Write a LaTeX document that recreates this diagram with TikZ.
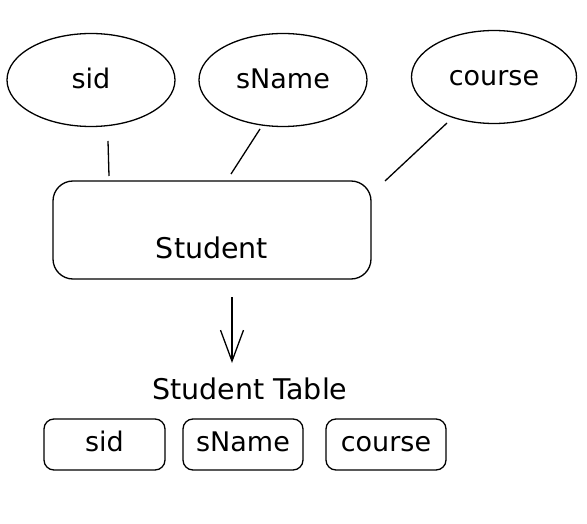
\documentclass[tikz,border=0pt]{standalone}
\usepackage{fontspec}
\setmainfont{DejaVu Sans}
\usetikzlibrary{shapes.geometric,arrows.meta}

\tikzset{
  attr/.style={ellipse, draw, line width=1.3pt, inner sep=0pt,
    minimum width=168pt, minimum height=93pt, text height=20pt, text depth=2pt},
  entity/.style={rectangle, draw, line width=1.3pt, rounded corners=20pt,
    minimum width=318pt, minimum height=98pt},
  cell/.style={rectangle, draw, line width=1.3pt, rounded corners=10pt,
    minimum width=120pt, minimum height=51pt, text height=19pt, text depth=5pt},
  title/.style={font=\fontsize{28.5}{33}\selectfont},
  link/.style={line width=1.3pt},
}

\begin{document}
\begin{tikzpicture}[x=1pt, y=-1pt, font=\fontsize{27}{32}\selectfont]
  \useasboundingbox (0,0) rectangle (587,524);
  % attributes
  \node[attr] (sid) at (91,80) {sid};
  \node[attr] (sname) at (283,80) {sName};
  \node[attr, minimum width=165pt] (course) at (494,77) {course};
  % entity
  \node[entity] (student) at (212,230) {};
  \node[title] (studentname) at ([yshift=-18pt]student.center) {Student};
  % links (drawn loose, as in the sketch)
  \coordinate (sidA) at (108,141);
  \coordinate (sidB) at (109,176);
  \coordinate (snameA) at (260,129);
  \coordinate (snameB) at (231,174);
  \coordinate (courseA) at (447,123);
  \coordinate (courseB) at (385,181);
  \draw[link] (sidA) -- (sidB);
  \draw[link] (snameA) -- (snameB);
  \draw[link] (courseA) -- (courseB);
  % to the table
  \coordinate (arrA) at (232,297);
  \coordinate (arrB) at (232,363);
  \draw[link, -{Straight Barb[length=31pt, width=23pt]}] (arrA) -- (arrB);
  \node[title] (table) at (250,389) {Student Table};
  \node[cell, minimum width=121pt] (tsid) at (104.5,444.5) {sid};
  \node[cell] (tsname) at (243,444.5) {sName};
  \node[cell] (tcourse) at (386,444.5) {course};
\end{tikzpicture}
\end{document}
